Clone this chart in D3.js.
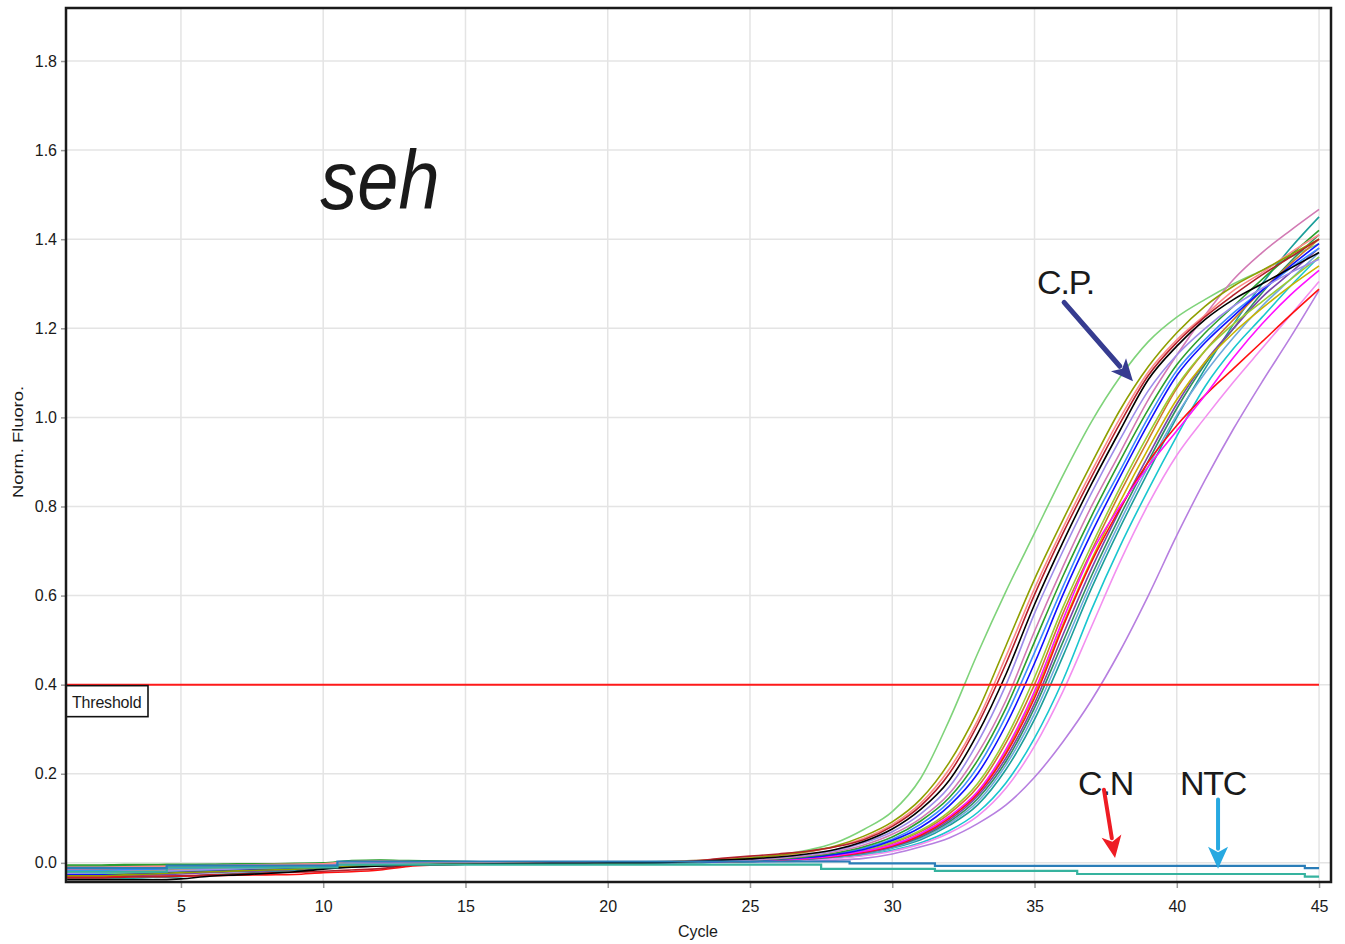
<!DOCTYPE html>
<html>
<head>
<meta charset="utf-8">
<script src="https://cdn.jsdelivr.net/npm/d3@7"></script>
<style>
  body { margin: 0; background: #fff; }
  svg { display: block; }
  text { font-family: "Liberation Sans", Arial, sans-serif; fill: #1a1a1a; }
</style>
</head>
<body>
<svg id="chart" width="1345" height="944"></svg>
<script>
// Amplification run: normalised fluorescence per cycle
const cycles = [1,2,3,4,5,6,7,8,9,10,11,12,13,14,15,16,17,18,19,20,21,22,23,24,25,26,27,28,29,30,31,32,33,34,35,36,37,38,39,40,41,42,43,44,45];

const xTicks = [5,10,15,20,25,30,35,40,45];
const yTicks = [0,0.2,0.4,0.6,0.8,1.0,1.2,1.4,1.6,1.8];
const threshold = 0.4;

// Positive samples
const lightgreen = [-0.019,-0.018,-0.016,-0.015,-0.013,-0.011,-0.009,-0.008,-0.006,-0.004,-0.003,-0.002,-0.002,-0.001,-0.001,0,0,0,0.001,0.001,0.002,0.003,0.005,0.008,0.012,0.018,0.028,0.045,0.075,0.115,0.19,0.32,0.47,0.61,0.74,0.87,0.99,1.09,1.17,1.225,1.265,1.30,1.33,1.36,1.39];
const olive = [-0.029,-0.029,-0.027,-0.025,-0.022,-0.02,-0.018,-0.016,-0.014,-0.011,-0.008,-0.006,-0.004,-0.003,-0.002,-0.002,-0.001,-0.001,0,0,0.001,0.002,0.004,0.007,0.011,0.017,0.025,0.038,0.06,0.092,0.143,0.225,0.34,0.488,0.637,0.77,0.896,1.016,1.114,1.19,1.25,1.295,1.33,1.365,1.40];
const salmon = [-0.01,-0.01,-0.009,-0.008,-0.007,-0.006,-0.005,-0.004,-0.003,-0.002,0.003,0.004,0.003,0.002,0.002,0.001,0.001,0.001,0.001,0.002,0.002,0.003,0.005,0.007,0.010,0.016,0.024,0.036,0.055,0.086,0.134,0.21,0.32,0.464,0.616,0.752,0.878,0.998,1.102,1.174,1.23,1.285,1.325,1.37,1.41];
const darkred = [-0.034,-0.034,-0.032,-0.03,-0.029,-0.027,-0.025,-0.023,-0.021,-0.019,-0.016,-0.013,-0.006,-0.004,-0.003,-0.002,-0.001,0,0,0.001,0.001,0.002,0.004,0.01,0.015,0.02,0.026,0.036,0.052,0.082,0.128,0.20,0.31,0.448,0.602,0.74,0.866,0.986,1.094,1.168,1.226,1.275,1.32,1.36,1.40];
const black = [-0.038,-0.038,-0.038,-0.038,-0.036,-0.03,-0.027,-0.024,-0.02,-0.014,-0.01,-0.007,-0.005,-0.004,-0.003,-0.002,-0.002,-0.001,-0.001,0,0,0.001,0.003,0.006,0.009,0.013,0.02,0.03,0.048,0.076,0.12,0.185,0.29,0.424,0.58,0.72,0.85,0.97,1.085,1.16,1.22,1.265,1.30,1.335,1.37];
const lavender = [-0.023,-0.022,-0.02,-0.019,-0.017,-0.015,-0.013,-0.011,-0.009,-0.006,-0.004,-0.003,-0.002,-0.002,-0.001,-0.001,0,0,0,0,0.001,0.002,0.003,0.005,0.008,0.012,0.018,0.028,0.045,0.07,0.11,0.17,0.27,0.40,0.56,0.70,0.83,0.95,1.06,1.14,1.20,1.25,1.29,1.325,1.355];
const orchid = [-0.014,-0.013,-0.012,-0.011,-0.01,-0.008,-0.007,-0.006,-0.004,-0.003,-0.002,-0.001,-0.001,0,0,0,0,0,0.001,0.001,0.001,0.002,0.003,0.004,0.006,0.01,0.016,0.025,0.04,0.064,0.10,0.155,0.245,0.365,0.52,0.665,0.80,0.92,1.04,1.14,1.23,1.31,1.37,1.42,1.467];
const green = [-0.005,-0.005,-0.004,-0.004,-0.003,-0.003,-0.002,-0.002,-0.001,0,0.005,0.006,0.005,0.004,0.003,0.002,0.001,0.001,0,0,0,0.001,0.002,0.004,0.006,0.009,0.014,0.022,0.036,0.058,0.094,0.146,0.23,0.348,0.496,0.644,0.778,0.902,1.018,1.118,1.19,1.25,1.31,1.365,1.42];
const blue = [-0.027,-0.027,-0.026,-0.024,-0.021,-0.019,-0.017,-0.015,-0.013,-0.01,-0.008,-0.006,-0.004,-0.003,-0.002,-0.002,-0.001,-0.001,0,0,0,0.001,0.002,0.003,0.005,0.008,0.012,0.019,0.03,0.05,0.08,0.128,0.20,0.31,0.448,0.602,0.74,0.866,0.986,1.094,1.168,1.228,1.285,1.34,1.39];
const dodger = [-0.017,-0.017,-0.015,-0.014,-0.012,-0.011,-0.009,-0.007,-0.006,-0.004,-0.003,-0.002,-0.001,-0.001,-0.001,0,0,0,0,0.001,0.001,0.001,0.002,0.003,0.005,0.009,0.013,0.02,0.033,0.053,0.087,0.137,0.215,0.33,0.472,0.62,0.76,0.88,1.0,1.105,1.175,1.235,1.285,1.335,1.38];
const magenta = [-0.012,-0.012,-0.011,-0.01,-0.008,-0.007,-0.006,-0.005,-0.004,-0.003,-0.002,-0.001,-0.001,0,0,0,0,0,0,0.001,0.001,0.001,0.002,0.003,0.004,0.007,0.01,0.016,0.026,0.04,0.066,0.104,0.16,0.255,0.385,0.546,0.695,0.80,0.89,0.97,1.05,1.135,1.21,1.275,1.33];
const red = [-0.032,-0.032,-0.031,-0.031,-0.03,-0.029,-0.028,-0.027,-0.026,-0.022,-0.02,-0.016,-0.008,-0.005,-0.003,-0.002,-0.001,-0.001,0,0,0,0.001,0.002,0.003,0.004,0.006,0.01,0.015,0.024,0.038,0.062,0.10,0.155,0.245,0.37,0.53,0.675,0.795,0.90,0.982,1.05,1.11,1.17,1.23,1.288];
const gold = [-0.021,-0.021,-0.02,-0.018,-0.016,-0.014,-0.012,-0.01,-0.008,-0.006,-0.004,-0.003,-0.002,-0.001,-0.001,-0.001,0,0,0,0,0.001,0.001,0.002,0.003,0.004,0.007,0.01,0.016,0.025,0.04,0.064,0.102,0.158,0.25,0.378,0.535,0.68,0.81,0.93,1.04,1.125,1.19,1.245,1.295,1.34];
const brown = [-0.015,-0.015,-0.014,-0.013,-0.012,-0.01,-0.009,-0.007,-0.005,-0.004,-0.003,-0.002,-0.001,-0.001,0,0,0,0,0,0.001,0.001,0.002,0.002,0.003,0.004,0.007,0.011,0.017,0.027,0.044,0.07,0.11,0.17,0.27,0.40,0.56,0.70,0.83,0.95,1.065,1.15,1.22,1.285,1.345,1.40];
const teal = [-0.036,-0.036,-0.035,-0.033,-0.031,-0.027,-0.024,-0.02,-0.017,-0.012,-0.009,-0.007,-0.005,-0.004,-0.003,-0.002,-0.002,-0.001,-0.001,0,0,0,0.001,0.002,0.003,0.005,0.008,0.013,0.02,0.033,0.052,0.084,0.13,0.21,0.322,0.464,0.616,0.752,0.878,1.0,1.11,1.21,1.30,1.38,1.45];
const seagreen = [-0.007,-0.007,-0.006,-0.006,-0.005,-0.004,-0.003,-0.003,-0.002,-0.001,0.004,0.005,0.004,0.003,0.002,0.002,0.001,0.001,0,0,0,0.001,0.001,0.002,0.003,0.006,0.009,0.014,0.022,0.036,0.058,0.092,0.144,0.228,0.348,0.496,0.644,0.778,0.902,1.02,1.12,1.2,1.28,1.35,1.41];
const cyan = [-0.025,-0.024,-0.023,-0.021,-0.019,-0.017,-0.015,-0.013,-0.011,-0.008,-0.006,-0.004,-0.003,-0.002,-0.002,-0.001,-0.001,0,0,0,0,0.001,0.001,0.002,0.003,0.005,0.007,0.011,0.017,0.028,0.045,0.072,0.113,0.18,0.28,0.41,0.568,0.71,0.838,0.958,1.07,1.155,1.225,1.295,1.36];
const lightpink = [-0.012,-0.012,-0.011,-0.01,-0.009,-0.008,-0.007,-0.005,-0.004,-0.003,0.002,0.003,0.003,0.002,0.001,0.001,0.001,0,0,0,0.001,0.001,0.002,0.002,0.003,0.004,0.006,0.01,0.016,0.026,0.042,0.067,0.105,0.168,0.262,0.385,0.53,0.675,0.805,0.915,1.0,1.08,1.155,1.23,1.305];
const violet = [-0.02,-0.019,-0.018,-0.016,-0.014,-0.012,-0.01,-0.009,-0.007,-0.005,-0.004,-0.003,-0.002,-0.002,-0.001,-0.001,0,0,0,0,0,0.001,0.001,0.002,0.002,0.003,0.004,0.006,0.01,0.02,0.036,0.056,0.088,0.13,0.192,0.272,0.365,0.475,0.60,0.735,0.86,0.975,1.08,1.18,1.285];
const purple = [-0.03,-0.03,-0.029,-0.027,-0.025,-0.022,-0.02,-0.018,-0.015,-0.012,-0.009,-0.007,-0.005,-0.004,-0.003,-0.002,-0.001,-0.001,0,0,0,0.001,0.002,0.002,0.003,0.006,0.009,0.015,0.023,0.037,0.06,0.096,0.15,0.236,0.358,0.512,0.66,0.792,0.914,1.03,1.125,1.2,1.27,1.325,1.38];
const steel = [-0.009,-0.009,-0.008,-0.008,-0.007,-0.006,-0.005,-0.004,-0.003,-0.002,-0.001,0,0.004,0.003,0.003,0.002,0.001,0.001,0.001,0,0,0.001,0.001,0.002,0.003,0.005,0.008,0.013,0.021,0.034,0.055,0.088,0.137,0.22,0.335,0.48,0.63,0.765,0.89,1.005,1.1,1.18,1.25,1.31,1.37];
const yellowgreen = [-0.026,-0.026,-0.025,-0.023,-0.021,-0.019,-0.017,-0.014,-0.012,-0.01,-0.007,-0.005,-0.004,-0.003,-0.002,-0.001,-0.001,0,0,0,0.001,0.001,0.002,0.003,0.004,0.007,0.011,0.018,0.028,0.046,0.073,0.115,0.178,0.28,0.416,0.574,0.712,0.842,0.962,1.07,1.15,1.21,1.26,1.31,1.36];

// Negative control and no-template control
const negControl = [-0.012,-0.012,-0.012,-0.012,-0.006,-0.006,-0.006,-0.006,-0.006,-0.006,0.003,0.003,0.003,0.003,0.003,0.003,0.003,0.003,0.003,0.003,0.003,0.003,0.003,0.003,0.003,0.003,0.003,0.003,-0.001,-0.001,-0.001,-0.007,-0.007,-0.007,-0.007,-0.007,-0.007,-0.007,-0.007,-0.007,-0.007,-0.007,-0.007,-0.007,-0.012];
const ntc = [-0.02,-0.02,-0.02,-0.02,-0.01,-0.01,-0.01,-0.01,-0.01,-0.01,-0.004,-0.004,-0.004,-0.004,-0.004,-0.004,-0.004,-0.004,-0.004,-0.004,-0.004,-0.004,-0.004,-0.004,-0.004,-0.004,-0.004,-0.0135,-0.0135,-0.0135,-0.0135,-0.018,-0.018,-0.018,-0.018,-0.018,-0.025,-0.025,-0.025,-0.025,-0.025,-0.025,-0.025,-0.025,-0.031];

const samples = [
  {values: lightgreen, color: "#7fd37a"},
  {values: violet, color: "#b77fe0"},
  {values: cyan, color: "#19c6cf"},
  {values: lightpink, color: "#f38ff0"},
  {values: teal, color: "#1b9e9a"},
  {values: steel, color: "#6fa8dc"},
  {values: seagreen, color: "#2f8f5f"},
  {values: purple, color: "#7a46a8"},
  {values: gold, color: "#c9b400"},
  {values: brown, color: "#cf7a2a"},
  {values: yellowgreen, color: "#9acd32"},
  {values: red, color: "#ff1010"},
  {values: magenta, color: "#ff10ff"},
  {values: dodger, color: "#3d8bff"},
  {values: blue, color: "#1010ff"},
  {values: green, color: "#2ca02c"},
  {values: orchid, color: "#d27ab4"},
  {values: lavender, color: "#9d8cea"},
  {values: salmon, color: "#ff8a8a"},
  {values: olive, color: "#8f9f00"},
  {values: darkred, color: "#b3202a"},
  {values: black, color: "#000000"}
];
const controls = [
  {values: ntc, color: "#36b39f"},
  {values: negControl, color: "#2a7db8"}
];

const W = 1345, H = 944;
const plot = {left: 66, right: 1331, top: 8, bottom: 882};
const x = d3.scaleLinear().domain([0.96, 45.42]).range([plot.left, plot.right]);
const y = d3.scaleLinear().domain([-0.043, 1.919]).range([plot.bottom, plot.top]);

const svg = d3.select("#chart");
svg.append("rect").attr("width", W).attr("height", H).attr("fill", "#fff");

svg.append("defs").append("clipPath").attr("id", "plotClip")
  .append("rect")
  .attr("x", plot.left).attr("y", plot.top)
  .attr("width", plot.right - plot.left).attr("height", plot.bottom - plot.top);

// Grid
const grid = svg.append("g").attr("stroke", "#e4e4e4").attr("stroke-width", 1.5);
grid.selectAll("line.gx").data(xTicks).join("line").attr("class", "gx")
  .attr("x1", d => x(d)).attr("x2", d => x(d))
  .attr("y1", plot.top).attr("y2", plot.bottom);
grid.selectAll("line.gy").data(yTicks).join("line").attr("class", "gy")
  .attr("x1", plot.left).attr("x2", plot.right)
  .attr("y1", d => y(d)).attr("y2", d => y(d));

// Axes
const yAxis = d3.axisLeft(y).tickValues(yTicks).tickFormat(d3.format(".1f")).tickSize(5).tickPadding(4);
const gy = svg.append("g").attr("transform", `translate(${plot.left},0)`).call(yAxis);
const xAxis = d3.axisBottom(x).tickValues(xTicks).tickFormat(d3.format("d")).tickSize(6).tickPadding(13);
const gx = svg.append("g").attr("transform", `translate(0,${plot.bottom})`).call(xAxis);
[gx, gy].forEach(g => {
  g.select(".domain").remove();
  g.selectAll(".tick line").attr("stroke", "#9a9a9a").attr("stroke-width", 1.5);
  g.selectAll(".tick text").attr("font-size", 16).attr("fill", "#1a1a1a")
    .attr("font-family", "'Liberation Sans', Arial, sans-serif");
});

// Curves
const line = d3.line()
  .x((d, i) => x(cycles[i]))
  .y(d => y(d))
  .curve(d3.curveMonotoneX);
const stepLine = d3.line()
  .x((d, i) => x(cycles[i]))
  .y(d => y(d))
  .curve(d3.curveStep);

const curves = svg.append("g").attr("clip-path", "url(#plotClip)").attr("fill", "none");
curves.selectAll("path.sample").data(samples).join("path").attr("class", "sample")
  .attr("d", d => line(d.values))
  .attr("stroke", d => d.color)
  .attr("stroke-width", 1.6)
  .attr("stroke-linejoin", "round");
curves.selectAll("path.ctrl").data(controls).join("path").attr("class", "ctrl")
  .attr("d", d => stepLine(d.values))
  .attr("stroke", d => d.color)
  .attr("stroke-width", 2.2);

// Threshold
svg.append("line")
  .attr("x1", plot.left).attr("x2", x(45))
  .attr("y1", y(threshold)).attr("y2", y(threshold))
  .attr("stroke", "#ff1a1a").attr("stroke-width", 2);
svg.append("rect")
  .attr("x", plot.left).attr("y", y(threshold) + 1)
  .attr("width", 82).attr("height", 31)
  .attr("fill", "#fff").attr("stroke", "#111").attr("stroke-width", 1.6);
svg.append("text")
  .attr("x", plot.left + 6).attr("y", y(threshold) + 23)
  .attr("font-size", 16).attr("letter-spacing", -0.2)
  .text("Threshold");

// Frame
svg.append("rect")
  .attr("x", plot.left).attr("y", plot.top)
  .attr("width", plot.right - plot.left).attr("height", plot.bottom - plot.top)
  .attr("fill", "none").attr("stroke", "#1a1a1a").attr("stroke-width", 2.5);

// Axis titles
svg.append("text")
  .attr("x", 698).attr("y", 937)
  .attr("text-anchor", "middle").attr("font-size", 16)
  .text("Cycle");
svg.append("text")
  .attr("transform", "translate(23,442) rotate(-90)")
  .attr("text-anchor", "middle").attr("font-size", 14)
  .attr("textLength", 112).attr("lengthAdjust", "spacingAndGlyphs")
  .text("Norm. Fluoro.");

// Target gene label
svg.append("text")
  .attr("transform", `translate(${x(9.9)},${y(1.467)}) scale(1,1.12)`)
  .attr("font-size", 74).attr("font-style", "italic")
  .attr("fill", "#000")
  .text("seh");

// Annotations
function arrow(from, to, color, width, headLen, headW) {
  const x0 = x(from[0]), y0 = y(from[1]), x1 = x(to[0]), y1 = y(to[1]);
  const dx = x1 - x0, dy = y1 - y0, len = Math.hypot(dx, dy);
  const ux = dx / len, uy = dy / len;
  const bx = x1 - ux * headLen, by = y1 - uy * headLen;
  const g = svg.append("g");
  g.append("line").attr("x1", x0).attr("y1", y0).attr("x2", bx + ux * 2).attr("y2", by + uy * 2)
    .attr("stroke", color).attr("stroke-width", width).attr("stroke-linecap", "round");
  g.append("path")
    .attr("d", `M${x1},${y1} L${bx - uy * headW / 2},${by + ux * headW / 2} L${bx + ux * headLen * 0.25},${by + uy * headLen * 0.25} L${bx + uy * headW / 2},${by - ux * headW / 2} Z`)
    .attr("fill", color);
}

const notes = [
  {text: "C.P.", at: [35.09, 1.276], from: [36.04, 1.258], to: [38.46, 1.081], color: "#363c90"},
  {text: "C.N", at: [36.53, 0.153], from: [37.44, 0.164], to: [37.83, 0.011], color: "#ee1c24"},
  {text: "NTC", at: [40.11, 0.153], from: [41.45, 0.142], to: [41.45, -0.013], color: "#27a9e1"}
];
notes.forEach(n => {
  svg.append("text").attr("x", x(n.at[0])).attr("y", y(n.at[1]))
    .attr("font-size", 34).attr("letter-spacing", -1.2).attr("fill", "#1a1a1a")
    .text(n.text);
  arrow(n.from, n.to, n.color, n.text === "C.P." ? 5 : 4, 22, 20);
});
</script>
</body>
</html>
